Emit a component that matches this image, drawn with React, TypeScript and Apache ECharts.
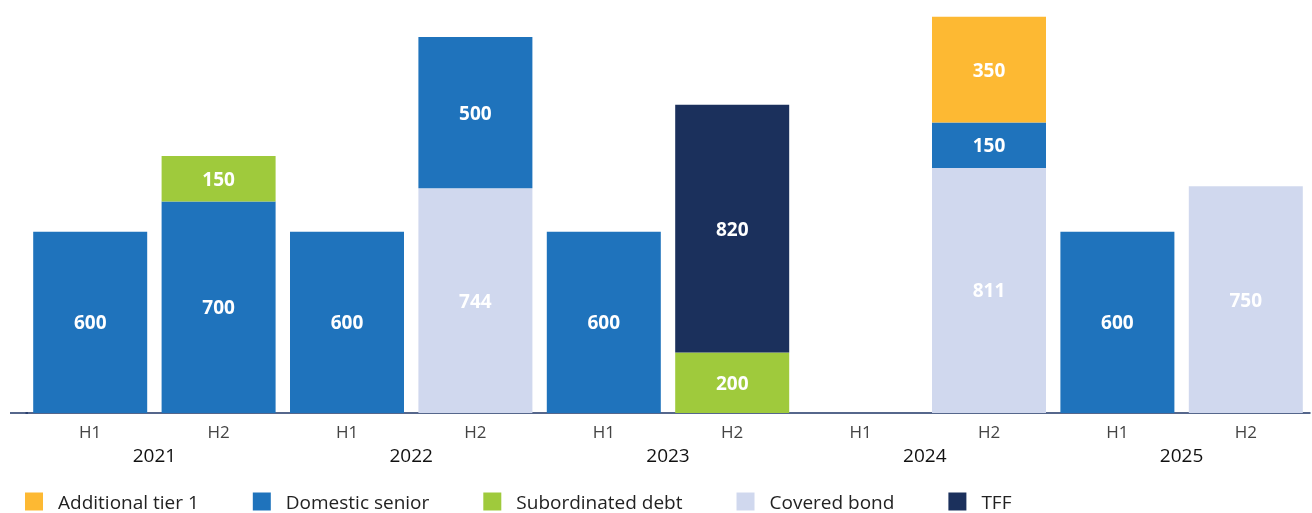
import React, { useEffect, useRef } from "react";
import * as echarts from "echarts";

const halves = ["H1", "H2", "H1", "H2", "H1", "H2", "H1", "H2", "H1", "H2"];
const years = ["2021", "2022", "2023", "2024", "2025"];

const coveredBond = [null, null, null, 744, null, null, null, 811, null, 750];
const domesticSenior = [600, 700, 600, 500, 600, null, null, 150, 600, null];
const subordinatedDebt = [null, 150, null, null, null, 200, null, null, null, null];
const tff = [null, null, null, null, null, 820, null, null, null, null];
const additionalTier1 = [null, null, null, null, null, null, null, 350, null, null];

const FONT = "'Open Sans', sans-serif";

export default function App() {
  const ref = useRef<HTMLDivElement>(null);
  useEffect(() => {
    if (!ref.current) return;
    const chart = echarts.init(ref.current, null, { renderer: "svg" });
    const label = {
      show: true,
      position: "inside",
      color: "#ffffff",
      fontFamily: FONT,
      fontWeight: "bold",
      fontSize: 19,
    };
    const mk = (name: string, data: (number | null)[], color: string) => ({
      name,
      type: "bar",
      stack: "total",
      data,
      barWidth: 114,
      itemStyle: { color },
      label,
    });
    chart.setOption({
      animation: false,
      textStyle: { fontFamily: FONT },
      grid: { left: 26, right: 2, top: 5, bottom: 100, containLabel: false },
      legend: {
        left: 20,
        top: 490,
        padding: [2, 5, 2, 5],
        itemWidth: 18,
        itemHeight: 18,
        itemGap: 54,
        icon: "rect",
        textStyle: {
          fontFamily: FONT,
          fontSize: 19,
          lineHeight: 18,
          color: "#222222",
          padding: [0, 0, 0, 10],
        },
        data: ["Additional tier 1", "Domestic senior", "Subordinated debt", "Covered bond", "TFF"],
      },
      xAxis: [
        {
          type: "category",
          data: halves,
          axisLine: { lineStyle: { color: "#1E3566", width: 1.5 } },
          axisTick: { show: false },
          axisLabel: { color: "#444444", fontSize: 17, margin: 10, fontFamily: FONT },
        },
        {
          type: "category",
          data: years,
          position: "bottom",
          offset: 22,
          axisLine: { show: false },
          axisTick: { show: false },
          axisLabel: { color: "#111111", fontSize: 19, margin: 10, fontFamily: FONT },
        },
      ],
      yAxis: {
        type: "value",
        min: 0,
        max: 1350,
        show: false,
        splitLine: { show: false },
      },
      graphic: [
        {
          type: "line",
          shape: { x1: 10, y1: 413, x2: 28, y2: 413 },
          style: { stroke: "#1E3566", lineWidth: 1.5 },
        },
      ],
      series: [
        mk("Covered bond", coveredBond, "#D0D8EE"),
        mk("Domestic senior", domesticSenior, "#1F73BC"),
        mk("Subordinated debt", subordinatedDebt, "#9FCA3C"),
        mk("TFF", tff, "#1B305C"),
        mk("Additional tier 1", additionalTier1, "#FDB933"),
      ],
    });
    return () => chart.dispose();
  }, []);
  return (
    <div
      ref={ref}
      style={{ position: "fixed", left: 0, top: 0, width: 1312, height: 513 }}
    />
  );
}
